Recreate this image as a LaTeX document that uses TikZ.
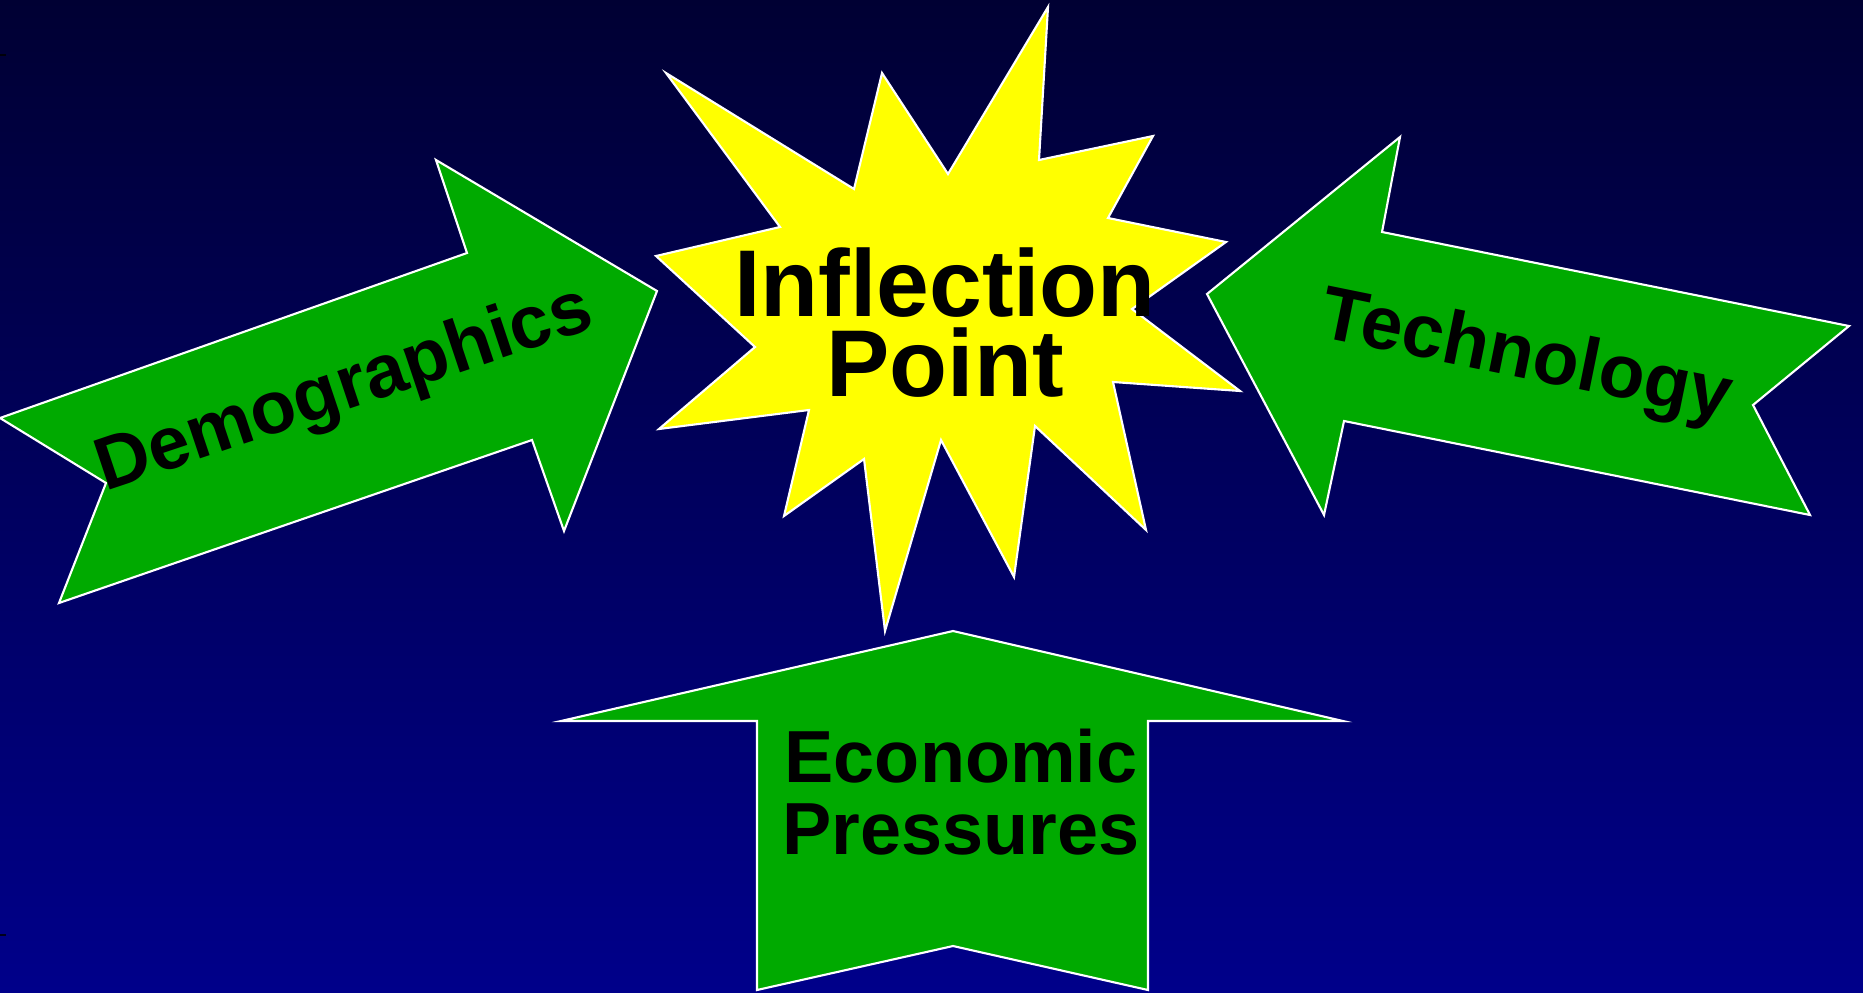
\documentclass[tikz,border=0pt]{standalone}
\usepackage{fontspec}
\setmainfont{Liberation Sans}
\usepackage{tikz}
\usetikzlibrary{positioning}

\definecolor{navytop}{RGB}{0,0,51}
\definecolor{navybot}{RGB}{0,0,138}
\definecolor{arrowgreen}{RGB}{0,170,0}
\definecolor{burstyellow}{RGB}{255,255,0}

\begin{document}
\begin{tikzpicture}[
    arrowshape/.style={fill=arrowgreen, draw=white, line width=0.6pt, line join=miter},
    burstshape/.style={fill=burstyellow, draw=white, line width=0.6pt, line join=miter},
    bigtext/.style={font=\bfseries, text=black, inner sep=0pt}
  ]
  % Background
  \useasboundingbox (0,0) rectangle (18.63,9.92);
  \shade[top color=navytop, bottom color=navybot] (0,0) rectangle (18.63,9.92);
  \draw[line width=0.5pt, black!80!navytop] (0,9.37) -- (0.06,9.37);
  \draw[line width=0.6pt, black!80!navybot] (0,0.57) -- (0.06,0.57);

  % --- STARBURST ---
  \draw[burstshape] (10.48,9.85) -- (10.39,8.32) -- (11.53,8.56) -- (11.08,7.74)
    -- (12.26,7.50) -- (11.32,6.83) -- (12.40,6.01) -- (11.13,6.10)
    -- (11.46,4.62) -- (10.35,5.66) -- (10.14,4.15) -- (9.41,5.52)
    -- (8.85,3.61) -- (8.64,5.33) -- (7.84,4.76) -- (8.09,5.82)
    -- (6.59,5.63) -- (7.55,6.45) -- (6.56,7.36) -- (7.80,7.65)
    -- (6.66,9.19) -- (8.54,8.03) -- (8.82,9.19) -- (9.48,8.18) -- cycle;

  % --- LEFT ARROW (points right) ---
  \draw[arrowshape] (0,5.74) -- (4.67,7.39) -- (4.36,8.32) -- (6.57,7.01)
    -- (5.64,4.61) -- (5.32,5.52) -- (0.59,3.89) -- (1.06,5.09) -- cycle;

  % --- RIGHT ARROW (points left) ---
  \draw[arrowshape] (12.07,6.98) -- (14.00,8.55) -- (13.82,7.60) -- (18.49,6.66)
    -- (17.53,5.87) -- (18.10,4.77) -- (13.44,5.71) -- (13.24,4.77) -- cycle;

  % --- BOTTOM ARROW (points up) ---
  \draw[arrowshape] (9.53,3.61) -- (13.43,2.71) -- (11.48,2.71) -- (11.48,0.02)
    -- (9.53,0.46) -- (7.57,0.02) -- (7.57,2.71) -- (5.61,2.71) -- cycle;

  % Labels
  \node[bigtext, font=\bfseries\fontsize{27}{22.8}\selectfont, align=center] (inflection)
    at (9.45,6.69) {Inflection\\Point};
  \node[bigtext, font=\bfseries\fontsize{21.2}{25}\selectfont, anchor=base, rotate=18.5] (demographics)
    at (3.51,5.83) {Demographics};
  \node[bigtext, font=\bfseries\fontsize{21.4}{25}\selectfont, anchor=base, rotate=-11.5] (technology)
    at (15.22,6.14) {Technology};
  \node[bigtext, font=\bfseries\fontsize{21}{20.5}\selectfont, align=center] (economic)
    at (9.61,2.00) {Economic\\Pressures};
\end{tikzpicture}
\end{document}
